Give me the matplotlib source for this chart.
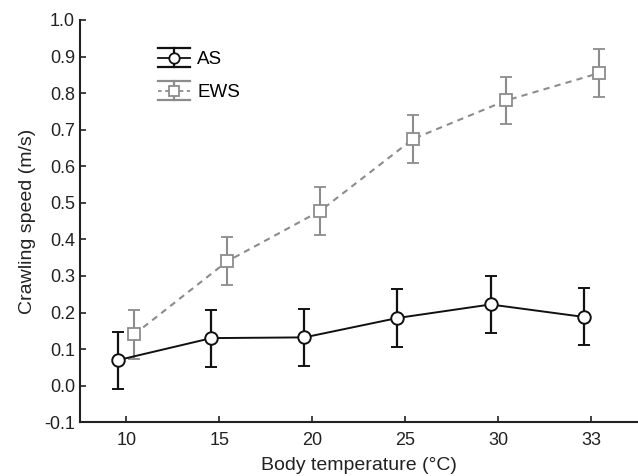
import numpy as np
import matplotlib
matplotlib.use("Agg")
import matplotlib.pyplot as plt
from matplotlib.lines import Line2D

plt.rcParams['font.family'] = ['Liberation Sans', 'DejaVu Sans']
plt.rcParams['axes.unicode_minus'] = False

# body temperature categories
temps = ['10', '15', '20', '25', '30', '33']

# AS series (mean and error)
as_mean = [0.070, 0.130, 0.132, 0.185, 0.222, 0.188]
as_err = [0.078, 0.078, 0.078, 0.078, 0.078, 0.078]

# EWS series
ews_mean = [0.140, 0.340, 0.478, 0.675, 0.780, 0.855]
ews_err = [0.066, 0.066, 0.065, 0.065, 0.065, 0.066]


class CapHandler:
    """legend key: marker with a vertical bar and wide caps"""
    def __init__(self, color, marker, ls, ms):
        self.color, self.marker, self.ls, self.ms = color, marker, ls, ms

    def legend_artist(self, legend, orig_handle, fontsize, handlebox):
        x0, y0 = -handlebox.xdescent, -handlebox.ydescent
        w, h = handlebox.width, handlebox.height
        xc, yc = x0 + w / 2, y0 + h / 2
        dy = 7.0
        t = handlebox.get_transform()
        arts = [
            Line2D([x0, x0 + w], [yc, yc], color=self.color, ls=self.ls, lw=1.3, transform=t),
            Line2D([x0, x0 + w], [yc + dy, yc + dy], color=self.color, lw=1.6, transform=t),
            Line2D([x0, x0 + w], [yc - dy, yc - dy], color=self.color, lw=1.6, transform=t),
            Line2D([xc, xc], [yc - dy, yc + dy], color=self.color, lw=1.6, transform=t),
            Line2D([xc], [yc], marker=self.marker, ms=self.ms, mfc='white',
                   mec=self.color, mew=1.3, ls='none', transform=t),
        ]
        for a in arts:
            handlebox.add_artist(a)
        return arts[0]


x = np.arange(len(temps))
off = 0.085

fig = plt.figure(figsize=(6.38, 4.76), dpi=100)
ax = fig.add_axes([0.125, 0.113, 0.875, 0.845])

ax.errorbar(x + off, ews_mean, yerr=ews_err, color='#8c8c8c', ls=(0, (3, 2.5)),
            lw=1.5, marker='s', ms=8, mfc='white', mec='#8c8c8c', mew=1.3,
            capsize=4.5, elinewidth=1.5, capthick=1.5)
ax.errorbar(x - off, as_mean, yerr=as_err, color='#111111', ls='-',
            lw=1.4, marker='o', ms=9, mfc='white', mec='#111111', mew=1.4,
            capsize=4.5, elinewidth=1.6, capthick=1.6)

ax.set_xlim(-0.5, 5.5)
ax.set_ylim(-0.1, 1.0)
ax.set_xticks(x)
ax.set_xticklabels(temps)
yt = np.arange(-0.1, 1.01, 0.1)
ax.set_yticks(yt)
ax.set_yticklabels([f'{v:.1f}' for v in yt])
ax.tick_params(direction='in', length=4, width=1.2, labelsize=13, colors='#222222')
ax.tick_params(axis='x', pad=7)

for s in ['top', 'right']:
    ax.spines[s].set_visible(False)
for s in ['left', 'bottom']:
    ax.spines[s].set_linewidth(1.5)
    ax.spines[s].set_color('#222222')

ax.set_xlabel('Body temperature (\u00b0C)', fontsize=14, color='#222222', labelpad=6)
ax.set_ylabel('Crawling speed (m/s)', fontsize=14, color='#222222', labelpad=6)

k_as, k_ews = object(), object()
ax.legend([k_as, k_ews], ['AS', 'EWS'], loc='upper left', bbox_to_anchor=(0.11, 0.965),
          frameon=False, fontsize=13.5, handlelength=1.7, handletextpad=0.4,
          labelspacing=0.85,
          handler_map={k_as: CapHandler('#111111', 'o', '-', 7.5),
                       k_ews: CapHandler('#8c8c8c', 's', (0, (2, 2)), 7)})

fig.savefig('out.png', dpi=100)
